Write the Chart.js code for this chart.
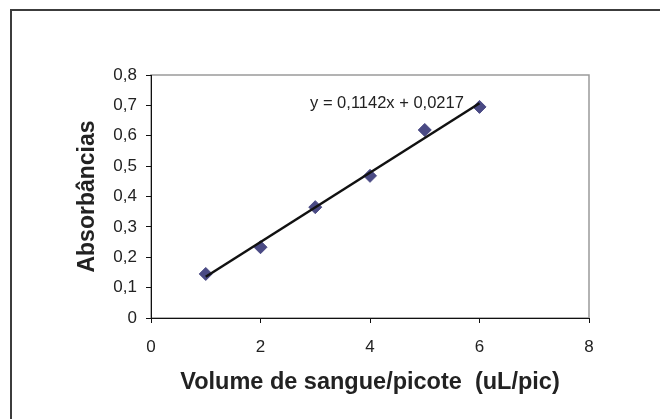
<!DOCTYPE html>
<html>
<head>
<meta charset="utf-8">
<script src="https://cdn.jsdelivr.net/npm/chart.js@4/dist/chart.umd.min.js"></script>
<style>
  html, body { margin: 0; padding: 0; background: #fff; overflow: hidden; }
  #graph { display: block; }
</style>
</head>
<body>
<canvas id="graph" width="660" height="419"></canvas>
<script>
///// données
let volumes = [1, 2, 3, 4, 5, 6];
let absorbancias = [0.145, 0.233, 0.365, 0.468, 0.619, 0.695];

///// droite de tendance (y = 0,1142x + 0,0217)
let trendX = [1, 6];
let trendY = [0.1359, 0.7069];
let equation = "y = 0,1142x + 0,0217";
let eqAt = [4.31, 0.705];

///// graduations
let xTicks = [0, 2, 4, 6, 8];
let yTicks = [0, 0.1, 0.2, 0.3, 0.4, 0.5, 0.6, 0.7, 0.8];

let police = "'Liberation Sans', Arial, sans-serif";

function virgule(v) {
    return String(Math.round(v * 10) / 10).replace(".", ",");
}

///// cadre extérieur, cadre gris du graphique + équation
let cadre = {
    id: "cadre",
    beforeDraw(chart) {
        let a = chart.chartArea;
        let ctx = chart.ctx;
        ctx.save();
        ctx.fillStyle = "#fff";
        ctx.fillRect(0, 0, chart.width, chart.height);
        // cadre extérieur (coupé à droite et en bas)
        ctx.strokeStyle = "#3c3c3c";
        ctx.lineWidth = 2;
        ctx.beginPath();
        ctx.moveTo(11, chart.height + 5);
        ctx.lineTo(11, 10);
        ctx.lineTo(chart.width + 5, 10);
        ctx.stroke();
        // bord gris de la zone de tracé
        ctx.strokeStyle = "#9a9a9a";
        ctx.lineWidth = 1.5;
        ctx.strokeRect(a.left, a.top, a.right - a.left, a.bottom - a.top);
        ctx.restore();
    },
    afterDatasetsDraw(chart) {
        let ctx = chart.ctx;
        let px = chart.scales.x.getPixelForValue(eqAt[0]);
        let py = chart.scales.y.getPixelForValue(eqAt[1]);
        ctx.save();
        ctx.font = "16.5px " + police;
        ctx.fillStyle = "#222";
        ctx.textAlign = "center";
        ctx.textBaseline = "middle";
        ctx.fillText(equation, px, py);
        ctx.restore();
    }
};

let graph = document.getElementById("graph");
let chart = new Chart(graph, {
    type: "scatter",
    data: {
        datasets: [{
            data: volumes.map((v, i) => ({x: v, y: absorbancias[i]})),
            pointStyle: "rectRot",
            pointRadius: 6.5,
            pointBackgroundColor: "#4a4a84",
            pointBorderColor: "#4a4a84",
            pointBorderWidth: 1,
            order: 2
        }, {
            type: "line",
            data: trendX.map((v, i) => ({x: v, y: trendY[i]})),
            borderColor: "#111",
            borderWidth: 2.5,
            pointRadius: 0,
            fill: false,
            order: 1
        }]
    },
    options: {
        responsive: false,
        animation: false,
        events: [],
        layout: { padding: { left: 60, top: 75, right: 71, bottom: 10 } },
        plugins: { legend: { display: false }, tooltip: { enabled: false } },
        scales: {
            x: {
                type: "linear",
                min: 0, max: 8,
                afterBuildTicks: s => { s.ticks = xTicks.map(v => ({value: v})); },
                afterFit: s => { s.height = 91; },
                grid: { drawOnChartArea: false, color: "#111", tickLength: 5 },
                border: { color: "#111", width: 1 },
                ticks: {
                    padding: 14,
                    color: "#222",
                    font: { size: 17, family: police },
                    callback: v => virgule(v)
                },
                title: {
                    display: true,
                    text: "Volume de sangue/picote  (uL/pic)",
                    color: "#222",
                    padding: { top: 0, bottom: 12 },
                    font: { size: 23.5, weight: "bold", family: police }
                }
            },
            y: {
                type: "linear",
                min: 0, max: 0.8,
                afterBuildTicks: s => { s.ticks = yTicks.map(v => ({value: v})); },
                afterFit: s => { s.width = 91; },
                grid: { drawOnChartArea: false, color: "#111", tickLength: 5 },
                border: { color: "#111", width: 1 },
                ticks: {
                    padding: 9,
                    color: "#222",
                    font: { size: 17, family: police },
                    callback: v => virgule(v)
                },
                title: {
                    display: true,
                    text: "Absorbâncias",
                    color: "#222",
                    padding: { top: 14, bottom: 0 },
                    font: { size: 23, weight: "bold", family: police }
                }
            }
        }
    },
    plugins: [cadre]
});
</script>
</body>
</html>
